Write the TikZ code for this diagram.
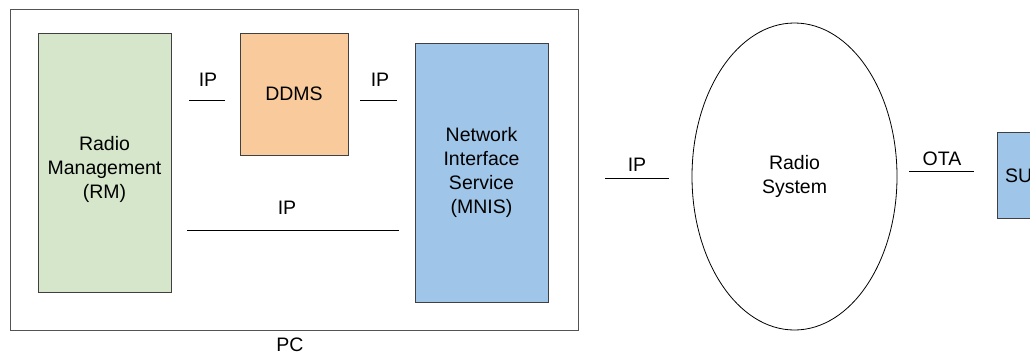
\documentclass[tikz,border=0pt]{standalone}
\usepackage{fontspec}
\setmainfont{Liberation Sans}
\usetikzlibrary{shapes.geometric}
\definecolor{rmgreen}{HTML}{D5E6CA}
\definecolor{ddorange}{HTML}{F9CB9C}
\definecolor{nblue}{HTML}{9FC5E8}
\definecolor{edge}{HTML}{404040}
\begin{document}
\begin{tikzpicture}[x=1pt,y=-1pt,
  every node/.style={font=\fontsize{19.5}{24}\selectfont, text=black},
  boxstyle/.style={draw=edge, line width=0.9pt, inner sep=0pt, align=center},
  wire/.style={draw=black, line width=0.9pt},
  wirelabel/.style={inner sep=0pt, anchor=center}]
\useasboundingbox (0,0) rectangle (1030,356);
% PC container
\node[boxstyle, draw=edge!90, minimum width=568pt, minimum height=321pt] (pc) at (294,169.5) {};
\node[wirelabel] (pclabel) at (290,345) {PC};
% Boxes
\node[boxstyle, fill=rmgreen, minimum width=133pt, minimum height=259pt,
  label={[align=center, yshift=-6.5pt]center:Radio\\Management\\(RM)}] (rm) at (104.5,162.5) {};
\node[boxstyle, fill=ddorange, minimum width=108pt, minimum height=122pt] (ddms) at (294,94) {DDMS};
\node[boxstyle, fill=nblue, minimum width=133pt, minimum height=259pt] (mnis) at (481.5,172.5) {Network\\Interface\\Service\\(MNIS)};
\node[draw=black, line width=0.8pt, ellipse, minimum width=205pt, minimum height=307pt, inner sep=0pt, align=center] (radio) at (794.5,176.5) {Radio\\System};
\node[boxstyle, fill=nblue, minimum width=80pt, minimum height=86pt] (su) at (1037,175) {};
\node[inner sep=0pt, anchor=west] (sutext) at (1005,176) {SU};
% Link lines
\coordinate (a1) at (189,100); \coordinate (a2) at (225,100);
\coordinate (b1) at (360,100); \coordinate (b2) at (397,100);
\coordinate (c1) at (187,230); \coordinate (c2) at (399,230);
\coordinate (d1) at (605,178); \coordinate (d2) at (669,178);
\coordinate (e1) at (909,171); \coordinate (e2) at (974,171);
\draw[wire] (a1) -- (a2);
\draw[wire] (b1) -- (b2);
\draw[wire] (c1) -- (c2);
\draw[wire] (d1) -- (d2);
\draw[wire] (e1) -- (e2);
\node[wirelabel] (la) at (208,80) {IP};
\node[wirelabel] (lb) at (380,80) {IP};
\node[wirelabel] (lc) at (287,208) {IP};
\node[wirelabel] (ld) at (637,165) {IP};
\node[wirelabel] (le) at (942,159) {OTA};
\end{tikzpicture}
\end{document}
